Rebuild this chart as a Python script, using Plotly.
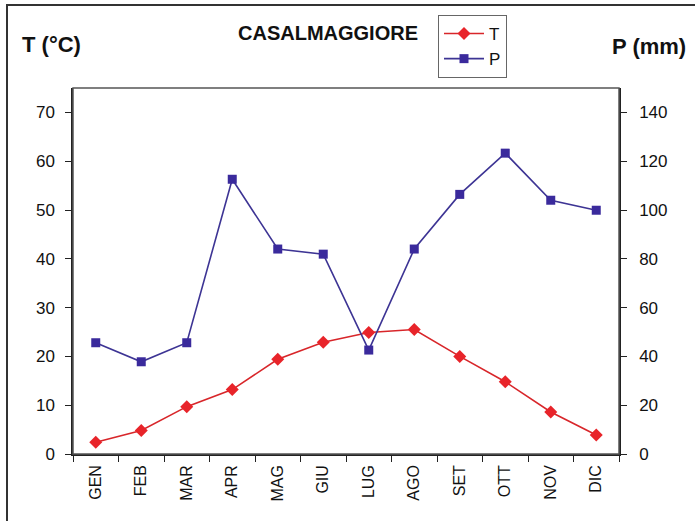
import plotly.graph_objects as go

months = ["GEN", "FEB", "MAR", "APR", "MAG", "GIU", "LUG", "AGO", "SET", "OTT", "NOV", "DIC"]
temperature = [2.4, 4.8, 9.7, 13.2, 19.4, 22.9, 24.9, 25.5, 20.0, 14.8, 8.6, 3.9]
precipitation = [45.6, 37.8, 45.6, 112.6, 84.0, 81.9, 42.6, 84.0, 106.4, 123.3, 104.0, 99.9]

W, H = 695, 521
L, R, T, B = 73, 76, 88, 67
pw, ph = W - L - R, H - T - B

def px(x):
    return (x - L) / pw

def py(y):
    return (H - B - y) / ph

font = "Liberation Sans, Arial, sans-serif"

fig = go.Figure()
fig.add_trace(go.Scatter(
    x=months, y=temperature, name="T", mode="lines+markers",
    line=dict(color="#d8262a", width=1.6),
    marker=dict(symbol="diamond", size=10, color="#e8242a"),
    yaxis="y",
))
fig.add_trace(go.Scatter(
    x=months, y=precipitation, name="P", mode="lines+markers",
    line=dict(color="#3d3494", width=1.6),
    marker=dict(symbol="square", size=9, color="#3a2a9c"),
    yaxis="y2",
))

fig.update_layout(
    width=W, height=H,
    margin=dict(l=L, r=R, t=T, b=B, autoexpand=False),
    paper_bgcolor="white", plot_bgcolor="white",
    font=dict(family=font, color="#111", size=15),
    showlegend=True,
    legend=dict(
        x=px(438), y=py(15), xanchor="left", yanchor="top",
        bordercolor="#666", borderwidth=1, bgcolor="white",
        font=dict(size=17, family=font),
        tracegroupgap=0, itemwidth=40,
    ),
    xaxis=dict(
        type="category", tickangle=-90, showgrid=False, automargin=False,
        showline=True, linecolor="#222", linewidth=1.5, mirror=False,
        ticks="outside", ticklen=6, tickcolor="#222", tickson="boundaries",
        tickfont=dict(size=16, family=font), ticklabelstandoff=3,
        range=[-0.5, 11.5],
    ),
    yaxis=dict(
        range=[0, 75], tickvals=[0, 10, 20, 30, 40, 50, 60, 70], automargin=False,
        showgrid=False, zeroline=False, showline=True, linecolor="#222", linewidth=1.5,
        ticks="outside", ticklen=6, tickcolor="#222",
        tickfont=dict(size=17, family=font), ticklabelstandoff=7,
    ),
    yaxis2=dict(
        range=[0, 150], tickvals=[0, 20, 40, 60, 80, 100, 120, 140], automargin=False,
        overlaying="y", side="right",
        showgrid=False, zeroline=False, showline=True, linecolor="#222", linewidth=1.5,
        ticks="outside", ticklen=6, tickcolor="#222",
        tickfont=dict(size=17, family=font), ticklabelstandoff=9,
    ),
    shapes=[
        dict(type="rect", xref="paper", yref="paper", x0=0, x1=1, y0=0, y1=1,
             line=dict(color="#555", width=1.5), layer="above"),
        dict(type="rect", xref="paper", yref="paper", x0=px(7), x1=px(710), y0=py(5), y1=py(540),
             line=dict(color="#333", width=2)),
    ],
    annotations=[
        dict(text="<b>T (°C)</b>", xref="paper", yref="paper", x=px(20), y=py(45),
             xanchor="left", yanchor="middle", showarrow=False, font=dict(size=22, family=font)),
        dict(text="<b>P (mm)</b>", xref="paper", yref="paper", x=px(688), y=py(47),
             xanchor="right", yanchor="middle", showarrow=False, font=dict(size=22, family=font)),
        dict(text="<b>CASALMAGGIORE</b>", xref="paper", yref="paper", x=px(328), y=py(33),
             xanchor="center", yanchor="middle", showarrow=False, font=dict(size=20, family=font)),
    ],
)

fig.write_html("out.html", config={"displayModeBar": False},
               post_script="document.body.style.margin='0';")
